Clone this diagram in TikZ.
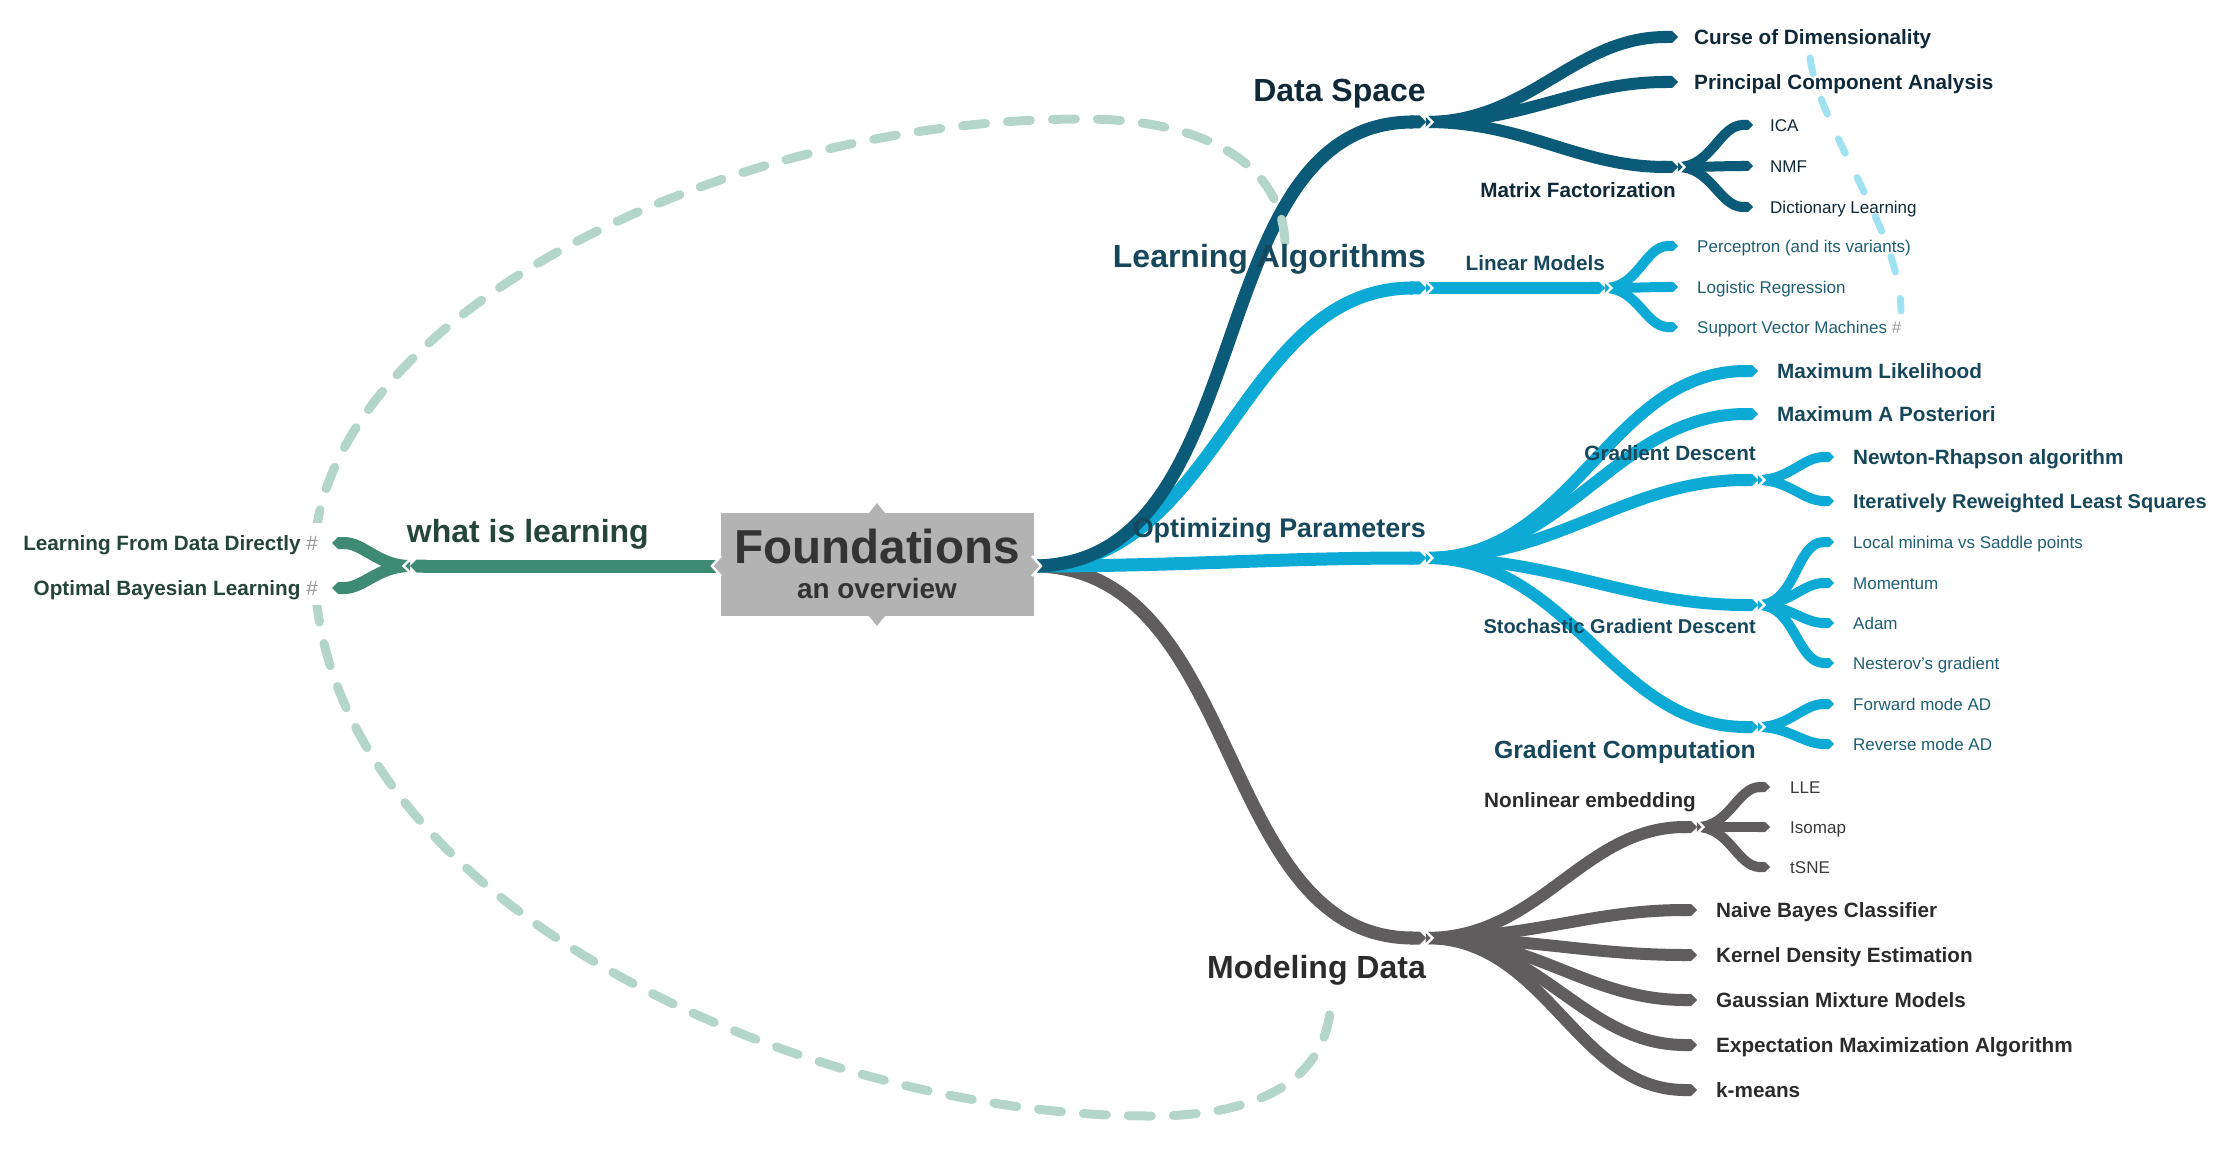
\documentclass[tikz,border=0pt]{standalone}
\usepackage{fontspec}
\setmainfont{Liberation Sans}
\usetikzlibrary{arrows.meta,positioning}

\definecolor{dsblue}{HTML}{0B5A78}
\definecolor{lacyan}{HTML}{0CAAD5}
\definecolor{mdgray}{HTML}{5F5D5D}
\definecolor{wlgreen}{HTML}{3F8A73}
\definecolor{dslabel}{HTML}{0F2939}
\definecolor{lalabel}{HTML}{17475B}
\definecolor{laleaf}{HTML}{1E5E73}
\definecolor{mdlabel}{HTML}{2B2B2B}
\definecolor{mdleaf}{HTML}{3A3A3A}
\definecolor{wllabel}{HTML}{25443A}
\definecolor{boxgray}{HTML}{B3B3B3}
\definecolor{titlegray}{HTML}{333333}
\definecolor{linkgreen}{HTML}{B3D5CA}
\definecolor{linkblue}{HTML}{A0E1F2}
\definecolor{hashgray}{HTML}{9A9A9A}

\tikzset{
  trunk/.style={line width=13pt, -{Triangle Cap}},
  bough/.style={line width=12pt, -{Triangle Cap}},
  twig/.style={line width=10pt, -{Triangle Cap}},
  notch/.style={white, line width=2.4pt, line join=miter},
  txt/.style={inner sep=0pt, text depth=0pt},
  bigtxt/.style={txt, font=\fontsize{32}{32}\selectfont\bfseries, text height=23.3pt},
  optxt/.style={txt, font=\fontsize{26.9}{26.9}\selectfont\bfseries, text height=19.5pt},
  gctxt/.style={txt, font=\fontsize{24.8}{24.8}\selectfont\bfseries, text height=18pt},
  midtxt/.style={txt, font=\fontsize{20.7}{20.7}\selectfont\bfseries, text height=15pt},
  narrowtxt/.style={txt, font=\fontsize{20}{20}\selectfont\bfseries, text height=14.5pt},
  smalltxt/.style={txt, font=\fontsize{17}{17}\selectfont, text height=12.4pt},
  linkg/.style={linkgreen, line width=9pt, line cap=round, dash pattern=on 23pt off 22pt},
  linkb/.style={linkblue, line width=7pt, line cap=round, dash pattern=on 16pt off 27pt},
}

\begin{document}
\begin{tikzpicture}[x=1pt, y=-1pt]
    \useasboundingbox (0,0) rectangle (2216,1158);

    % root and junctions
    \coordinate (rootR) at (1033,566);
    \coordinate (rootL) at (720,566);

    \coordinate (wlJ) at (410,566);
    \coordinate (lfdd) at (332,543);
    \coordinate (obl) at (332,588);

    \coordinate (dsJ) at (1426,122);
    \coordinate (cod) at (1678,37);
    \coordinate (pca) at (1678,82);
    \coordinate (mfJ) at (1678,167);
    \coordinate (ica) at (1753,125);
    \coordinate (nmf) at (1753,166);
    \coordinate (dil) at (1753,207);

    \coordinate (laJ) at (1426,288);
    \coordinate (lmJ) at (1605,288);
    \coordinate (pcp) at (1678,246);
    \coordinate (lgr) at (1678,287);
    \coordinate (svm) at (1678,327);

    \coordinate (opJ) at (1426,558);
    \coordinate (mle) at (1758,371);
    \coordinate (map) at (1758,414);
    \coordinate (gdJ) at (1758,480);
    \coordinate (nwr) at (1834,457);
    \coordinate (irls) at (1834,501);
    \coordinate (sgdJ) at (1758,605);
    \coordinate (lms) at (1834,542);
    \coordinate (mom) at (1834,583);
    \coordinate (adam) at (1834,623);
    \coordinate (nag) at (1834,663);
    \coordinate (gcJ) at (1758,727);
    \coordinate (fwd) at (1834,704);
    \coordinate (rev) at (1834,744);

    \coordinate (mdJ) at (1426,938);
    \coordinate (neJ) at (1697,827);
    \coordinate (lle) at (1770,787);
    \coordinate (iso) at (1770,827);
    \coordinate (tsne) at (1770,867);
    \coordinate (nbc) at (1697,910);
    \coordinate (kde) at (1697,955);
    \coordinate (gmm) at (1697,1000);
    \coordinate (ema) at (1697,1045);
    \coordinate (kms) at (1697,1090);

    % what is learning
    \draw[trunk, wlgreen] (rootL) -- (wlJ);
    \draw[bough, wlgreen] (wlJ) to[out=180,in=0] (lfdd);
    \draw[bough, wlgreen] (wlJ) to[out=180,in=0] (obl);

    % modeling data
    \draw[trunk, mdgray] (rootR) to[out=0,in=180] (mdJ);
    \draw[bough, mdgray] (mdJ) to[out=0,in=180] (neJ);
    \foreach \t in {nbc,kde,gmm,ema,kms}
        \draw[bough, mdgray] (mdJ) to[out=0,in=180] (\t);
    \foreach \t in {lle,iso,tsne}
        \draw[twig, mdgray] (neJ) to[out=0,in=180] (\t);

    % optimizing parameters
    \draw[trunk, lacyan] (rootR) to[out=0,in=180] (opJ);
    \foreach \t in {mle,map,gdJ,sgdJ,gcJ}
        \draw[bough, lacyan] (opJ) to[out=0,in=180] (\t);
    \foreach \t in {nwr,irls}
        \draw[twig, lacyan] (gdJ) to[out=0,in=180] (\t);
    \foreach \t in {lms,mom,adam,nag}
        \draw[twig, lacyan] (sgdJ) to[out=0,in=180] (\t);
    \foreach \t in {fwd,rev}
        \draw[twig, lacyan] (gcJ) to[out=0,in=180] (\t);

    % learning algorithms
    \draw[trunk, lacyan] (rootR) to[out=0,in=180] (laJ);
    \draw[bough, lacyan] (laJ) -- (lmJ);
    \foreach \t in {pcp,lgr,svm}
        \draw[twig, lacyan] (lmJ) to[out=0,in=180] (\t);

    % data space
    \draw[trunk, dsblue] (rootR) to[out=0,in=180] (dsJ);
    \foreach \t in {cod,pca,mfJ}
        \draw[bough, dsblue] (dsJ) to[out=0,in=180] (\t);
    \foreach \t in {ica,nmf,dil}
        \draw[twig, dsblue] (mfJ) to[out=0,in=180] (\t);

    % notches at the forks
    \foreach \j in {dsJ,mfJ,laJ,lmJ,opJ,gdJ,sgdJ,gcJ,mdJ,neJ}
        \draw[notch] (\j) ++(-2.5,-9) -- ++(9,9) -- ++(-9,9);
    \draw[notch] (wlJ) ++(2.5,-9) -- ++(-9,9) -- ++(9,9);

    % central topic
    \node[fill=boxgray, minimum width=313pt, minimum height=103pt, inner sep=0pt] (found) at (877,564.5) {};
    \fill[boxgray] (869,513) -- (877,503) -- (885,513) -- cycle;
    \fill[boxgray] (869,616) -- (877,626) -- (885,616) -- cycle;
    \draw[notch, fill=boxgray] (1032,556) -- (1041,566) -- (1032,576);
    \draw[notch, fill=boxgray] (721,556) -- (712,566) -- (721,576);
    \node[txt, font=\fontsize{47.6}{47.6}\selectfont\bfseries, text=titlegray, anchor=base] (foundtxt) at (877,563) {Foundations};
    \node[txt, font=\fontsize{27.9}{27.9}\selectfont\bfseries, text=titlegray, anchor=base] (overtxt) at (877,598) {an overview};

    % relation lines
    \coordinate (lnkLA) at (1285,242);
    \coordinate (lnkMD) at (1331,996);
    \draw[linkg] (lnkLA) .. controls (1280,150) and (1180,118) .. (1080,119)
        .. controls (700,120) and (314,330) .. (314,560)
        .. controls (314,900) and (800,1116) .. (1150,1116)
        .. controls (1300,1116) and (1331,1050) .. (lnkMD);
    \coordinate (lnkCD) at (1810,58);
    \coordinate (lnkSV) at (1901,311);
    \draw[linkb] (lnkCD) .. controls (1820,130) and (1900,230) .. (lnkSV);
    \fill[white] (300,523) rectangle (324,605);

    % labels
    \node[bigtxt, text=wllabel, above left=23pt and 71pt of rootL] (wltxt) {what is learning};
    \node[midtxt, text=wllabel, left=14pt of lfdd] (lfddtxt) {Learning From Data Directly {\mdseries\color{hashgray}\#}};
    \node[midtxt, text=wllabel, left=14pt of obl] (obltxt) {Optimal Bayesian Learning {\mdseries\color{hashgray}\#}};

    \node[bigtxt, text=dslabel, above left=20pt and 0pt of dsJ] (dstxt) {Data Space};
    \node[midtxt, text=dslabel, right=16pt of cod] (codtxt) {Curse of Dimensionality};
    \node[midtxt, text=dslabel, right=16pt of pca] (pcatxt) {Principal Component Analysis};
    \node[midtxt, text=dslabel, below left=15pt and 2pt of mfJ] (mftxt) {Matrix Factorization};
    \node[smalltxt, text=dslabel, right=17pt of ica] (icatxt) {ICA};
    \node[smalltxt, text=dslabel, right=17pt of nmf] (nmftxt) {NMF};
    \node[smalltxt, text=dslabel, right=17pt of dil] (diltxt) {Dictionary Learning};

    \node[bigtxt, text=lalabel, above left=20pt and 0pt of laJ] (latxt) {Learning Algorithms};
    \node[midtxt, text=lalabel, above left=17pt and 0pt of lmJ] (lmtxt) {Linear Models};
    \node[smalltxt, text=laleaf, right=19pt of pcp] (pcptxt) {Perceptron (and its variants)};
    \node[smalltxt, text=laleaf, right=19pt of lgr] (lgrtxt) {Logistic Regression};
    \node[smalltxt, text=laleaf, right=19pt of svm] (svmtxt) {Support Vector Machines {\color{hashgray}\#}};

    \node[optxt, text=lalabel, above left=20pt and 0pt of opJ] (optxt) {Optimizing Parameters};
    \node[midtxt, text=lalabel, right=19pt of mle] (mletxt) {Maximum Likelihood};
    \node[midtxt, text=lalabel, right=19pt of map] (maptxt) {Maximum A Posteriori};
    \node[midtxt, text=lalabel, above left=19pt and 2pt of gdJ] (gdtxt) {Gradient Descent};
    \node[midtxt, text=lalabel, right=19pt of nwr] (nwrtxt) {Newton-Rhapson algorithm};
    \node[narrowtxt, text=lalabel, right=19pt of irls] (irlstxt) {Iteratively Reweighted Least Squares};
    \node[narrowtxt, text=lalabel, below left=13.5pt and 2pt of sgdJ] (sgdtxt) {Stochastic Gradient Descent};
    \node[smalltxt, text=laleaf, right=19pt of lms] (lmstxt) {Local minima vs Saddle points};
    \node[smalltxt, text=laleaf, right=19pt of mom] (momtxt) {Momentum};
    \node[smalltxt, text=laleaf, right=19pt of adam] (adamtxt) {Adam};
    \node[smalltxt, text=laleaf, right=19pt of nag] (nagtxt) {Nesterov's gradient};
    \node[gctxt, text=lalabel, below left=13pt and 2pt of gcJ] (gctxt) {Gradient Computation};
    \node[smalltxt, text=laleaf, right=19pt of fwd] (fwdtxt) {Forward mode AD};
    \node[smalltxt, text=laleaf, right=19pt of rev] (revtxt) {Reverse mode AD};

    \node[bigtxt, text=mdlabel, below left=16.7pt and 0pt of mdJ] (mdtxt) {Modeling Data};
    \node[midtxt, text=mdlabel, above left=19pt and 1pt of neJ] (netxt) {Nonlinear embedding};
    \node[smalltxt, text=mdleaf, right=20pt of lle] (lletxt) {LLE};
    \node[smalltxt, text=mdleaf, right=20pt of iso] (isotxt) {Isomap};
    \node[smalltxt, text=mdleaf, right=20pt of tsne] (tsnetxt) {tSNE};
    \node[midtxt, text=mdlabel, right=19pt of nbc] (nbctxt) {Naive Bayes Classifier};
    \node[midtxt, text=mdlabel, right=19pt of kde] (kdetxt) {Kernel Density Estimation};
    \node[midtxt, text=mdlabel, right=19pt of gmm] (gmmtxt) {Gaussian Mixture Models};
    \node[midtxt, text=mdlabel, right=19pt of ema] (ematxt) {Expectation Maximization Algorithm};
    \node[midtxt, text=mdlabel, right=19pt of kms] (kmstxt) {k-means};
\end{tikzpicture}
\end{document}
